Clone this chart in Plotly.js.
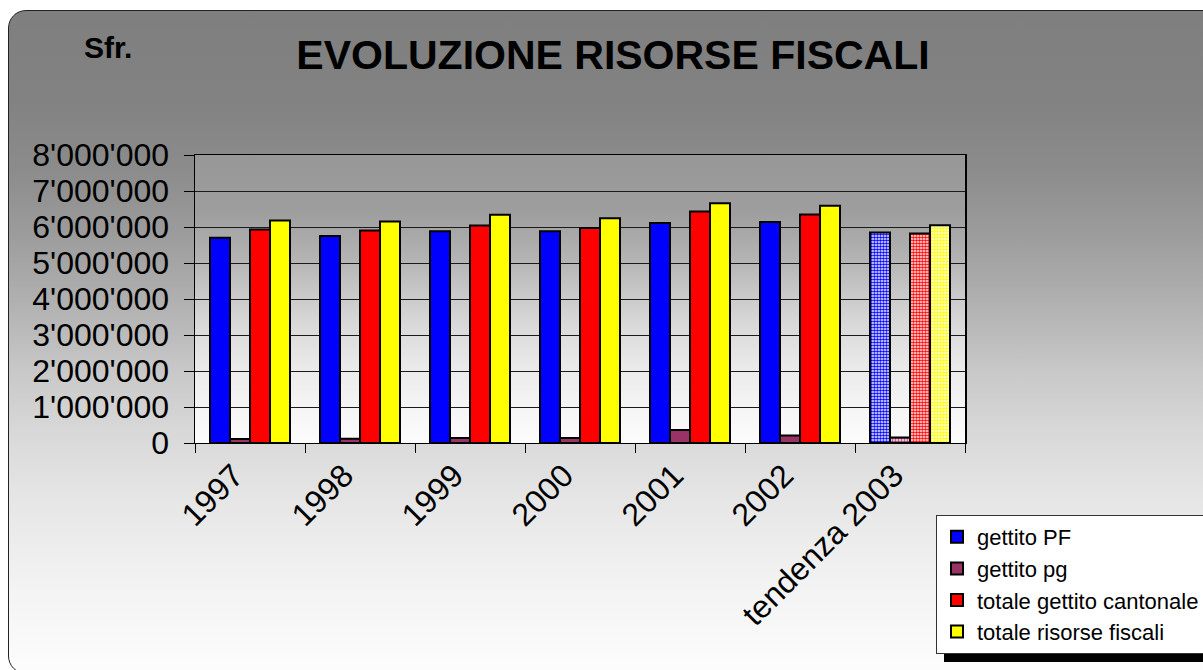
<!DOCTYPE html>
<html>
<head>
<meta charset="utf-8">
<script src="https://cdn.plot.ly/plotly-3.0.1.min.js"></script>
<style>
  html, body { margin:0; padding:0; background:#ffffff; width:1203px; height:670px; overflow:hidden; }
  #wrap { position:relative; width:1203px; height:670px; overflow:hidden; }
  #frame { position:absolute; left:8px; top:10px; width:1215px; height:664px; box-sizing:border-box;
    border:1.5px solid #222; border-radius:18px;
    background: linear-gradient(to bottom, #7f7f7f 0px, #828282 90px, #8c8c8c 160px, #9b9b9b 220px, #b0b0b0 290px, #c8c8c8 360px, #d8d8d8 420px, #e6e6e6 490px, #f2f2f2 570px, #fdfdfd 664px); }
  #plotbg { position:absolute; left:195px; top:155px; width:770px; height:288px;
    background: linear-gradient(to bottom, #979797 0%, #9e9e9e 20%, #b2b2b2 35%, #c8c8c8 48%, #dadada 60%, #e9e9e9 73%, #f4f4f4 86%, #fcfcfc 100%); }
  #chart { position:absolute; left:0; top:0; width:1203px; height:670px; }
</style>
</head>
<body>
<div id="wrap">
<div id="frame"></div>
<div id="plotbg"></div>
<div id="chart"></div>
</div>
<script>
const categories = ['1997', '1998', '1999', '2000', '2001', '2002', 'tendenza 2003'];
const gettitoPF = [5700000, 5750000, 5880000, 5880000, 6110000, 6140000, 5850000];
const gettitoPG = [110000, 120000, 140000, 140000, 360000, 210000, 150000];
const totaleGettitoCantonale = [5930000, 5900000, 6040000, 5970000, 6430000, 6350000, 5820000];
const totaleRisorseFiscali = [6180000, 6150000, 6340000, 6240000, 6660000, 6590000, 6050000];
const seriesNames = ['gettito PF', 'gettito pg', 'totale gettito cantonale', 'totale risorse fiscali'];
const seriesColors = ['#0000ff', '#993366', '#ff0000', '#ffff00'];
const yTickVals = [0, 1000000, 2000000, 3000000, 4000000, 5000000, 6000000, 7000000, 8000000];

const FONT = 'Liberation Sans, Arial, sans-serif';
const isTrend = categories.map(c => c.indexOf('tendenza') === 0);

function makeTrace(name, values, color) {
  return {
    type: 'bar', name: name, x: categories, y: values,
    marker: {
      color: color,
      line: { color: '#000000', width: 2 },
      pattern: {
        shape: isTrend.map(t => t ? '.' : ''),
        fgcolor: color,
        bgcolor: '#ffffff',
        size: 3,
        solidity: 0.6,
        fillmode: 'replace'
      }
    },
    hoverinfo: 'x+y+name'
  };
}

const data = [
  makeTrace(seriesNames[0], gettitoPF, seriesColors[0]),
  makeTrace(seriesNames[1], gettitoPG, seriesColors[1]),
  makeTrace(seriesNames[2], totaleGettitoCantonale, seriesColors[2]),
  makeTrace(seriesNames[3], totaleRisorseFiscali, seriesColors[3])
];

const L = 195, R = 965, T = 155, B = 443;
function px2x(p) { return (p - L) / (R - L); }
function px2y(p) { return (B - p) / (B - T); }

const layout = {
  width: 1203, height: 670,
  margin: { l: L, r: 1203 - R, t: T, b: 670 - B, pad: 0, autoexpand: false },
  paper_bgcolor: 'rgba(0,0,0,0)',
  plot_bgcolor: 'rgba(0,0,0,0)',
  separators: ".'",
  font: { family: FONT, color: '#000000' },
  barmode: 'group',
  bargap: 0.2727,
  bargroupgap: 0,
  showlegend: true,
  title: {
    text: '<b>EVOLUZIONE RISORSE FISCALI</b>',
    font: { family: FONT, size: 41, color: '#000000' },
    xref: 'container', x: 613 / 1203, xanchor: 'center',
    yref: 'container', y: 1 - 55 / 670, yanchor: 'middle'
  },
  xaxis: {
    type: 'category',
    tickson: 'boundaries',
    ticks: 'outside', ticklen: 9, tickcolor: '#000000', tickwidth: 1,
    tickangle: -45,
    ticklabelshift: -16,
    tickfont: { family: FONT, size: 32, color: '#000000' },
    showline: true, linecolor: '#000000', linewidth: 1, mirror: true,
    showgrid: false, automargin: false, fixedrange: true
  },
  yaxis: {
    range: [0, 8000000],
    tickvals: yTickVals,
    tickformat: ',d',
    ticks: 'outside', ticklen: 10, tickcolor: '#000000', tickwidth: 1,
    ticklabelstandoff: 8,
    tickfont: { family: FONT, size: 32, color: '#000000' },
    showline: true, linecolor: '#000000', linewidth: 1.5, mirror: true,
    showgrid: true, gridcolor: '#1a1a1a', gridwidth: 1,
    zeroline: false, automargin: false, fixedrange: true
  },
  legend: {
    x: px2x(936), xanchor: 'left',
    y: px2y(515), yanchor: 'top',
    bgcolor: '#ffffff', bordercolor: '#333333', borderwidth: 1,
    font: { family: FONT, size: 22, color: '#000000' },
    itemwidth: 30, traceorder: 'normal'
  },
  annotations: [
    { text: '<b>Sfr.</b>', xref: 'paper', yref: 'paper', x: px2x(108), y: px2y(47),
      xanchor: 'center', yanchor: 'middle', showarrow: false,
      font: { family: FONT, size: 30, color: '#000000' } }
  ],
  shapes: [
    { type: 'rect', xref: 'paper', yref: 'paper', layer: 'below',
      x0: px2x(944), x1: px2x(1215), y0: px2y(662), y1: px2y(530),
      fillcolor: '#000000', line: { width: 0 } }
  ]
};

Plotly.newPlot('chart', data, layout, { displayModeBar: false, staticPlot: true });
</script>
</body>
</html>
